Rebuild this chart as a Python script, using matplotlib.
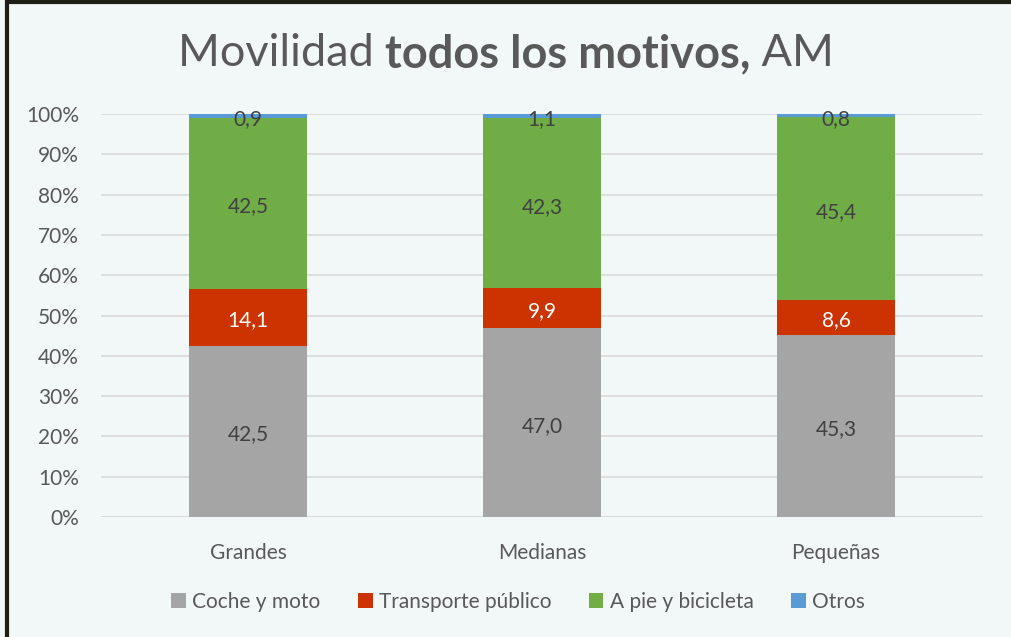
import matplotlib
matplotlib.use("Agg")
import matplotlib.pyplot as plt
import numpy as np
from matplotlib.patches import Rectangle

categories = ["Grandes", "Medianas", "Pequeñas"]
series_names = ["Coche y moto", "Transporte público", "A pie y bicicleta", "Otros"]
coche = [42.5, 47.0, 45.3]
transporte = [14.1, 9.9, 8.6]
apie = [42.5, 42.3, 45.4]
otros = [0.9, 1.1, 0.8]
yticks = [0, 10, 20, 30, 40, 50, 60, 70, 80, 90, 100]

colors = ["#A5A5A5", "#CC3300", "#70AD47", "#5B9BD5"]
label_colors = ["#404040", "white", "#404040", "#404040"]

plt.rcParams['font.family'] = ['Lato', 'DejaVu Sans']

fig = plt.figure(figsize=(10.12, 6.37), dpi=100)
fig.patch.set_facecolor("#F2F7F7")
ax = fig.add_axes([101/1012, 1 - 517/637, 882/1012, 403/637])
ax.set_facecolor("#F2F7F7")

data = np.array([coche, transporte, apie, otros])
totals = data.sum(axis=0)
pct = data / totals * 100
x = np.arange(len(categories))
bottom = np.zeros(len(categories))
for i, name in enumerate(series_names):
    ax.bar(x, pct[i], 0.4, bottom=bottom, color=colors[i], label=name,
           zorder=3, edgecolor="none")
    for j in range(len(categories)):
        yc = bottom[j] + pct[i][j] / 2 - 0.8
        lbl = f"{data[i][j]:.1f}".replace(".", ",")
        ax.text(x[j], yc, lbl, ha="center", va="center",
                fontsize=15, color=label_colors[i], zorder=4)
    bottom += pct[i]

ax.set_xlim(-0.5, 2.5)
ax.set_ylim(0, 100)
ax.set_yticks(yticks)
ax.set_yticklabels([f"{t}%" for t in yticks])
ax.set_xticks(x)
ax.set_xticklabels(categories)
ax.tick_params(axis="both", length=0, labelsize=15, colors="#595959")
ax.tick_params(axis="x", pad=19)
ax.tick_params(axis="y", pad=16)
ax.grid(axis="y", color="#D9D9D9", linewidth=1.2, zorder=0)
for s in ax.spines.values():
    s.set_visible(False)
ax.axhline(0, color="#D9D9D9", linewidth=1.2, zorder=2)

# Title with mixed weights
t1 = fig.text(0, 0, "Movilidad ", fontsize=32.5, color="#595959")
t2 = fig.text(0, 0, "todos los motivos,", fontsize=32.5, color="#595959", fontweight="bold")
t3 = fig.text(0, 0, " AM", fontsize=32.5, color="#595959")
fig.canvas.draw()
r = fig.canvas.get_renderer()
ws = [t.get_window_extent(r).width for t in (t1, t2, t3)]
total = sum(ws)
start = 506 - total / 2
ycen = 1 - 54 / 637
pos = start
for t, w in zip((t1, t2, t3), ws):
    t.set_position((pos / 1012, ycen))
    t.set_va("center")
    pos += w

handles, labels = ax.get_legend_handles_labels()
leg = fig.legend(handles, labels, loc="center", bbox_to_anchor=(0.512, 1 - 602/637),
                 ncol=4, frameon=False, fontsize=15, handlelength=0.7, handleheight=0.7,
                 handletextpad=0.3, columnspacing=1.8)
for t in leg.get_texts():
    t.set_color("#595959")

fig.add_artist(Rectangle((7.5/1012, -0.1), 1.2, 1.1 - 2/637, transform=fig.transFigure,
                         fill=False, edgecolor="#1E1E14", linewidth=3))

fig.savefig("out.png", dpi=100, facecolor=fig.get_facecolor())
